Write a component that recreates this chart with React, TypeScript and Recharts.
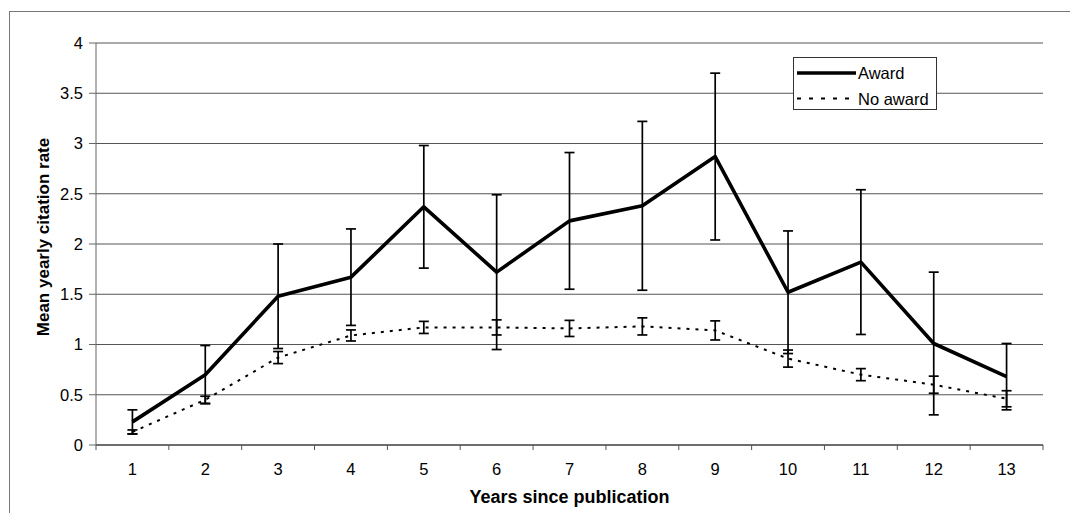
import React from "react";
import { LineChart, Line, XAxis, YAxis, CartesianGrid, ErrorBar, Legend, Label } from "recharts";

const FONT = "Arial, 'Liberation Sans', Helvetica, sans-serif";

const years = [1, 2, 3, 4, 5, 6, 7, 8, 9, 10, 11, 12, 13];
const awardMean = [0.23, 0.7, 1.48, 1.67, 2.37, 1.72, 2.23, 2.38, 2.87, 1.52, 1.82, 1.01, 0.68];
const awardErr = [0.12, 0.29, 0.52, 0.48, 0.61, 0.77, 0.68, 0.84, 0.83, 0.61, 0.72, 0.71, 0.33];
const noAwardMean = [0.13, 0.45, 0.87, 1.09, 1.17, 1.17, 1.16, 1.18, 1.14, 0.86, 0.7, 0.6, 0.46];
const noAwardErr = [0.02, 0.035, 0.06, 0.055, 0.06, 0.075, 0.08, 0.085, 0.095, 0.085, 0.06, 0.085, 0.08];
const yTicks = [0, 0.5, 1, 1.5, 2, 2.5, 3, 3.5, 4];
const seriesNames = ["Award", "No award"];
const xTitle = "Years since publication";
const yTitle = "Mean yearly citation rate";

const data = years.map((year, i) => ({
  year,
  award: awardMean[i],
  awardErr: awardErr[i],
  noAward: noAwardMean[i],
  noAwardErr: noAwardErr[i],
}));

const xDomain = [years[0] - 0.5, years[years.length - 1] + 0.5];
const xTicks = [years[0] - 0.5, ...years.flatMap((y) => [y, y + 0.5])];

const XTick = (props: any) => {
  const { x, y, payload } = props;
  const v = payload.value;
  if (Number.isInteger(v)) {
    return (
      <text x={x} y={y + 24} textAnchor="middle" dominantBaseline="central" fontSize={16.5} fill="#000" fontFamily={FONT}>
        {v}
      </text>
    );
  }
  return <line x1={x} x2={x} y1={y} y2={y + 5} stroke="#555" strokeWidth={1} />;
};

const LegendBox = (props: any) => {
  const items = (props.payload && props.payload.length ? props.payload.map((p: any) => p.value) : seriesNames) as string[];
  return (
    <div style={{ width: 144, height: 53, background: "#fff", boxSizing: "border-box", border: "1px solid #333" }}>
      <svg width={142} height={51} style={{ display: "block" }}>
        {items.map((name, i) => {
          const cy = 15 + i * 25.6;
          return (
            <g key={name}>
              {i === 0 ? (
                <line x1={3} x2={62} y1={cy} y2={cy} stroke="#000" strokeWidth={3.5} />
              ) : (
                <line x1={3} x2={62} y1={cy} y2={cy} stroke="#000" strokeWidth={2} strokeDasharray="4 8" />
              )}
              <text x={64} y={cy} dominantBaseline="central" fontSize={16.5} fontFamily={FONT} fill="#000">
                {name}
              </text>
            </g>
          );
        })}
      </svg>
    </div>
  );
};

export default function App() {
  return (
    <div style={{ position: "relative", width: 1062, height: 505, fontFamily: FONT }}>
      <div
        style={{
          position: "absolute",
          left: 1,
          top: 3,
          right: -8,
          bottom: -8,
          borderTop: "1px solid #777",
          borderLeft: "1px solid #777",
        }}
      />
      <LineChart width={1062} height={505} data={data} margin={{ top: 35, right: 27, left: 0, bottom: 0 }}>
        <CartesianGrid vertical={false} stroke="#555" strokeWidth={1} />
        <XAxis
          dataKey="year"
          type="number"
          domain={xDomain}
          ticks={xTicks}
          interval={0}
          height={68}
          tickLine={false}
          tickSize={0}
          tickMargin={0}
          tick={<XTick />}
          axisLine={{ stroke: "#333", strokeWidth: 1 }}
          allowDecimals
        >
          <Label
            content={(p: any) => {
              const vb = p.viewBox || {};
              return (
                <text
                  x={vb.x + vb.width / 2}
                  y={vb.y + 52}
                  textAnchor="middle"
                  dominantBaseline="central"
                  fontSize={18}
                  fontWeight="bold"
                  fontFamily={FONT}
                  fill="#000"
                >
                  {xTitle}
                </text>
              );
            }}
          />
        </XAxis>
        <YAxis
          type="number"
          domain={[0, 4]}
          ticks={yTicks}
          interval={0}
          width={88}
          tickSize={7}
          tickMargin={6}
          axisLine={{ stroke: "#666", strokeWidth: 1 }}
          tickLine={{ stroke: "#666", strokeWidth: 1 }}
          tick={{ fontSize: 16.5, fill: "#000", fontFamily: FONT }}
        >
          <Label
            content={(p: any) => {
              const vb = p.viewBox || {};
              const cx = vb.x + 35;
              const cy = vb.y + vb.height / 2 - 7;
              return (
                <text
                  x={cx}
                  y={cy}
                  transform={`rotate(-90, ${cx}, ${cy})`}
                  textAnchor="middle"
                  dominantBaseline="central"
                  fontSize={17}
                  fontWeight="bold"
                  fontFamily={FONT}
                  fill="#000"
                >
                  {yTitle}
                </text>
              );
            }}
          />
        </YAxis>
        <Legend
          layout="vertical"
          align="center"
          verticalAlign="middle"
          content={<LegendBox />}
          wrapperStyle={{ left: 785, top: 49, width: 144, height: 53 }}
        />
        <Line
          type="linear"
          dataKey="noAward"
          name={seriesNames[1]}
          stroke="#000"
          strokeWidth={2}
          strokeDasharray="3 6"
          dot={false}
          isAnimationActive={false}
        >
          <ErrorBar dataKey="noAwardErr" direction="y" width={5} stroke="#000" strokeWidth={1.7} isAnimationActive={false} />
        </Line>
        <Line
          type="linear"
          dataKey="award"
          name={seriesNames[0]}
          stroke="#000"
          strokeWidth={3.6}
          strokeLinejoin="round"
          dot={false}
          isAnimationActive={false}
        >
          <ErrorBar dataKey="awardErr" direction="y" width={5} stroke="#000" strokeWidth={1.7} isAnimationActive={false} />
        </Line>
      </LineChart>
    </div>
  );
}
